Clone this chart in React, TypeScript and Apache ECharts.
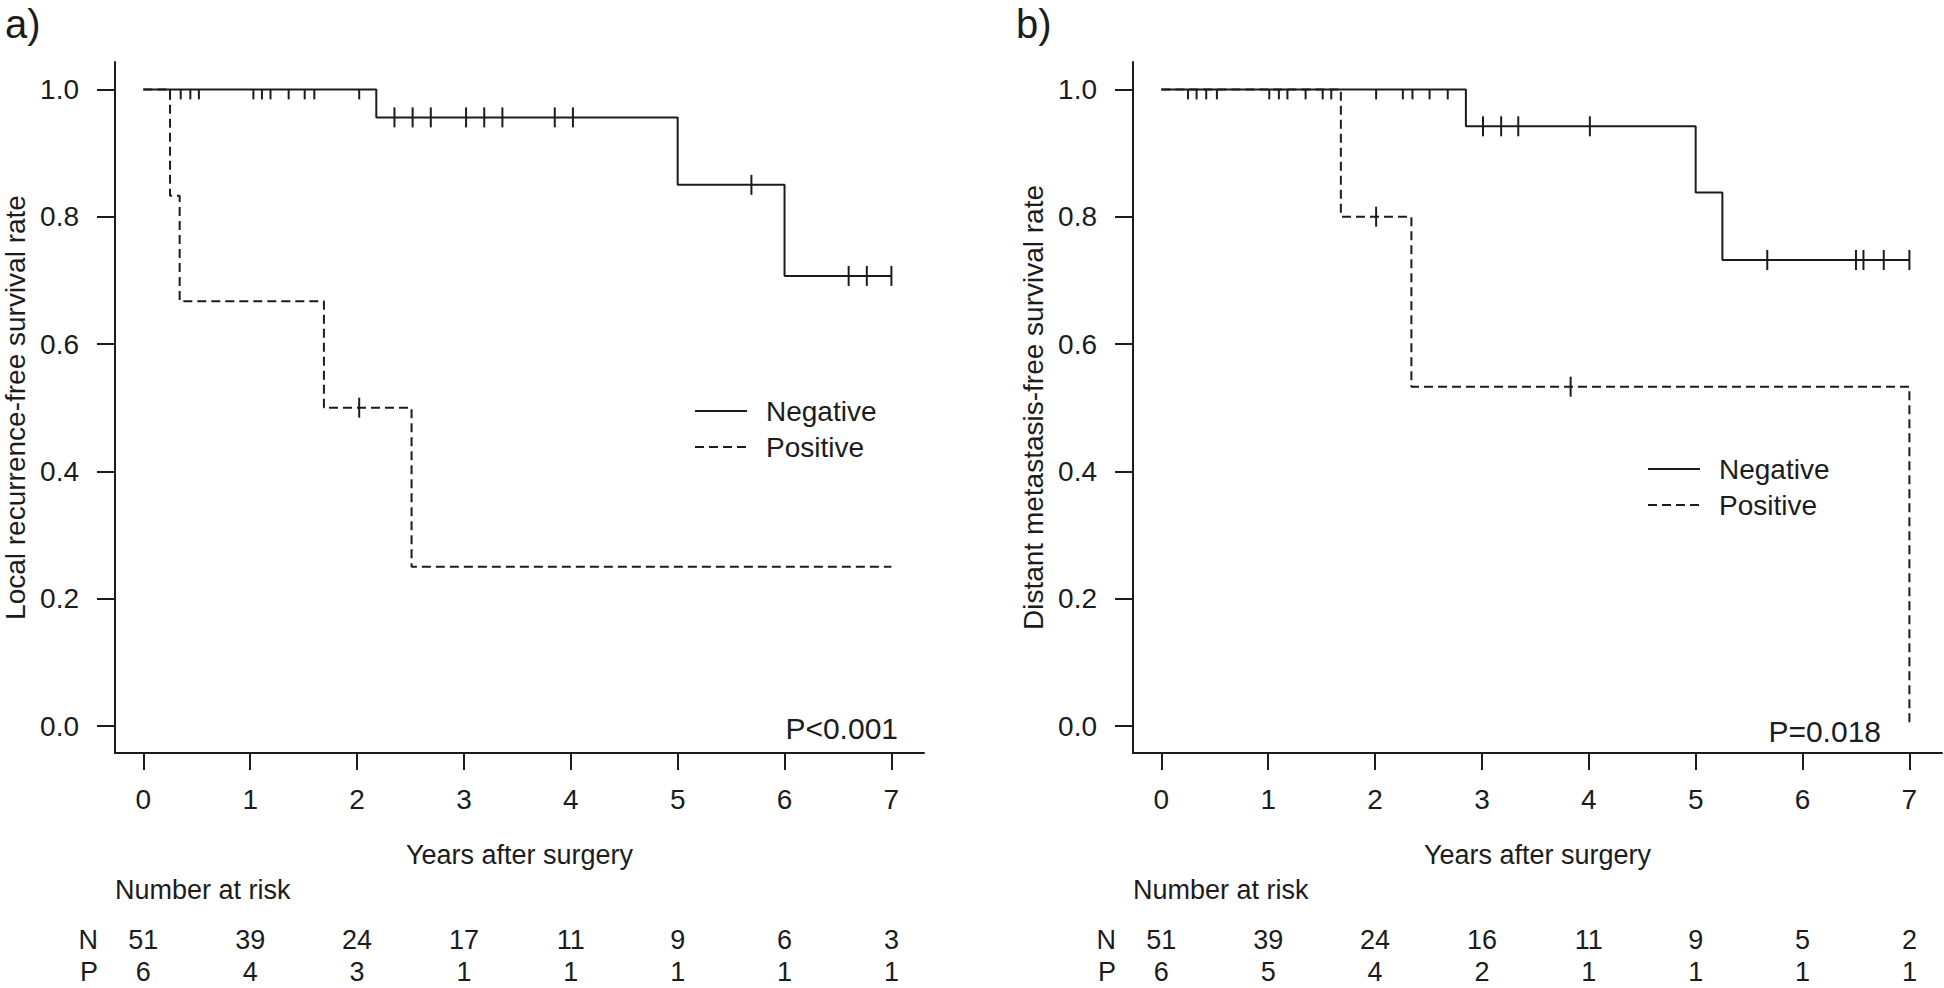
import React, { useEffect, useRef } from "react";
import * as echarts from "echarts";

// ---------- shared axes ----------
const yearTicks = [0, 1, 2, 3, 4, 5, 6, 7];
const survTicks = [0, 0.2, 0.4, 0.6, 0.8, 1.0];
const riskRows = ["N", "P"];
const legendNames = ["Negative", "Positive"];

// ---------- a) Local recurrence-free survival ----------
const aNegTimes = [0, 2.18, 5.0, 6.0, 7.0];
const aNegSurv = [1, 0.956, 0.85, 0.707, 0.707];
const aPosTimes = [0, 0.25, 0.34, 1.69, 2.51, 7.0];
const aPosSurv = [1, 0.833, 0.667, 0.5, 0.25, 0.25];
const aNegCensor = [0.25, 0.35, 0.44, 0.52, 1.03, 1.11, 1.19, 1.36, 1.51, 1.6, 2.02, 2.35, 2.52, 2.69, 3.02, 3.19, 3.36, 3.85, 4.02, 5.69, 6.6, 6.77, 7.0];
const aPosCensor = [2.02];
const aRiskN = [51, 39, 24, 17, 11, 9, 6, 3];
const aRiskP = [6, 4, 3, 1, 1, 1, 1, 1];
const aYName = "Local recurrence-free survival rate";
const aPValue = "P<0.001";

// ---------- b) Distant metastasis-free survival ----------
const bNegTimes = [0, 2.85, 5.0, 5.25, 7.0];
const bNegSurv = [1, 0.942, 0.838, 0.732, 0.732];
const bPosTimes = [0, 1.68, 2.34, 7.0];
const bPosSurv = [1, 0.8, 0.533, 0];
const bNegCensor = [0.25, 0.33, 0.42, 0.52, 1.01, 1.1, 1.18, 1.35, 1.51, 1.59, 2.01, 2.26, 2.35, 2.51, 2.68, 3.01, 3.18, 3.34, 4.01, 5.67, 6.5, 6.57, 6.76, 7.0];
const bPosCensor = [2.01, 3.83];
const bRiskN = [51, 39, 24, 16, 11, 9, 5, 2];
const bRiskP = [6, 5, 4, 2, 1, 1, 1, 1];
const bYName = "Distant metastasis-free survival rate";
const bPValue = "P=0.018";

const FONT = '"Liberation Sans", Arial, Helvetica, sans-serif';
const INK = "#1c1c1c";
const X_MIN = -0.265;
const X_MAX = 7.305;
const Y_MIN = -0.0424;
const Y_MAX = 1.043;

function censorData(times: number[], surv: number[], censor: number[]) {
  return censor.map((t) => {
    let v = surv[0];
    for (let i = 0; i < times.length; i++) if (times[i] <= t + 1e-9 && surv[i] > 0) v = surv[i];
    const top = v >= 0.999;
    return {
      value: [t, v],
      symbolSize: top ? [2, 10] : [2, 20],
      symbolOffset: top ? [0, 5] : [0, 0],
    };
  });
}

function zip(times: number[], surv: number[]) {
  return times.map((t, i) => [t, surv[i]]);
}

function mainX(grid: number) {
  return {
    type: "value",
    gridIndex: grid,
    min: X_MIN,
    max: X_MAX,
    name: "Years after surgery",
    nameLocation: "middle",
    nameGap: 88,
    nameMoveOverlap: false,
    nameTextStyle: { fontFamily: FONT, fontSize: 27, color: INK },
    axisLine: { show: true, onZero: false, lineStyle: { color: INK, width: 2 } },
    axisTick: { show: true, length: 17, lineStyle: { color: INK, width: 2 }, customValues: yearTicks },
    axisLabel: { show: true, margin: 32, fontFamily: FONT, fontSize: 28, color: INK, customValues: yearTicks, formatter: (v: number) => String(v) },
    splitLine: { show: false },
  };
}

function mainY(grid: number, name: string) {
  return {
    type: "value",
    gridIndex: grid,
    min: Y_MIN,
    max: Y_MAX,
    name,
    nameLocation: "middle",
    nameRotate: 90,
    nameGap: 86,
    nameMoveOverlap: false,
    nameTextStyle: { fontFamily: FONT, fontSize: 28, color: INK },
    axisLine: { show: true, onZero: false, lineStyle: { color: INK, width: 2 } },
    axisTick: { show: true, length: 18, lineStyle: { color: INK, width: 2 }, customValues: survTicks },
    axisLabel: { show: true, margin: 36, fontFamily: FONT, fontSize: 28, color: INK, customValues: survTicks, formatter: (v: number) => v.toFixed(1) },
    splitLine: { show: false },
  };
}

function tableX(grid: number) {
  return { type: "value", gridIndex: grid, min: X_MIN, max: X_MAX, show: false };
}

function tableY(grid: number) {
  return {
    type: "category",
    gridIndex: grid,
    data: riskRows,
    inverse: true,
    axisLine: { show: false, onZero: false },
    axisTick: { show: false },
    axisLabel: { show: true, interval: 0, margin: 17, fontFamily: FONT, fontSize: 27, color: INK },
    splitLine: { show: false },
  };
}

function panelSeries(
  g: number,
  tg: number,
  negT: number[], negS: number[], posT: number[], posS: number[],
  negC: number[], posC: number[], riskN: number[], riskP: number[]
) {
  const riskData = [
    ...yearTicks.map((y, i) => [y, "N", riskN[i]]),
    ...yearTicks.map((y, i) => [y, "P", riskP[i]]),
  ];
  return [
    {
      name: "Negative", type: "line", xAxisIndex: g, yAxisIndex: g, step: "end",
      data: zip(negT, negS), symbol: "none", silent: true,
      lineStyle: { color: INK, width: 2, type: "solid" }, itemStyle: { color: INK },
    },
    {
      name: "Positive", type: "line", xAxisIndex: g, yAxisIndex: g, step: "end",
      data: zip(posT, posS), symbol: "none", silent: true,
      lineStyle: { color: INK, width: 2, type: [9, 5] }, itemStyle: { color: INK },
    },
    {
      name: "Negative censored", type: "scatter", xAxisIndex: g, yAxisIndex: g,
      symbol: "rect", data: censorData(negT, negS, negC), silent: true,
      itemStyle: { color: INK, opacity: 1 }, emphasis: { disabled: true },
    },
    {
      name: "Positive censored", type: "scatter", xAxisIndex: g, yAxisIndex: g,
      symbol: "rect", data: censorData(posT, posS, posC), silent: true,
      itemStyle: { color: INK, opacity: 1 }, emphasis: { disabled: true },
    },
    {
      name: "Number at risk", type: "scatter", xAxisIndex: tg, yAxisIndex: tg,
      data: riskData, symbolSize: 1, silent: true,
      itemStyle: { color: "rgba(0,0,0,0)", opacity: 1 },
      label: {
        show: true, position: "inside", fontFamily: FONT, fontSize: 27, color: INK, opacity: 1,
        textBorderWidth: 0, textBorderColor: "transparent",
        formatter: (p: any) => String(p.value[2]),
      },
      emphasis: { disabled: true },
    },
  ];
}

export default function App() {
  const ref = useRef<HTMLDivElement>(null);
  useEffect(() => {
    if (!ref.current) return;
    const chart = echarts.init(ref.current, null, { renderer: "svg" });
    const legendBase = {
      orient: "vertical",
      data: legendNames,
      itemWidth: 52,
      itemHeight: 14,
      itemGap: 8,
      selectedMode: false,
      itemStyle: { opacity: 0, color: "rgba(0,0,0,0)", borderWidth: 0 },
      textStyle: { fontFamily: FONT, fontSize: 28, color: INK, padding: [0, 0, 0, 14], lineHeight: 28 },
    };
    const gridBase = { outerBoundsMode: "none", containLabel: false };
    const option: any = {
      animation: false,
      backgroundColor: "#ffffff",
      grid: [
        { ...gridBase, left: 115, top: 62, width: 809, height: 691 },
        { ...gridBase, left: 1133, top: 62, width: 809, height: 691 },
        { ...gridBase, left: 115, top: 924, width: 809, height: 64 },
        { ...gridBase, left: 1133, top: 924, width: 809, height: 64 },
      ],
      xAxis: [mainX(0), mainX(1), tableX(2), tableX(3)],
      yAxis: [mainY(0, aYName), mainY(1, bYName), tableY(2), tableY(3)],
      legend: [
        { ...legendBase, left: 689, top: 392 },
        { ...legendBase, left: 1642, top: 450 },
      ],
      series: [
        ...panelSeries(0, 2, aNegTimes, aNegSurv, aPosTimes, aPosSurv, aNegCensor, aPosCensor, aRiskN, aRiskP),
        ...panelSeries(1, 3, bNegTimes, bNegSurv, bPosTimes, bPosSurv, bNegCensor, bPosCensor, bRiskN, bRiskP),
      ],
      graphic: [
        { type: "text", left: 5, top: 4, style: { text: "a)", fontFamily: FONT, fontSize: 40, fill: INK } },
        { type: "text", left: 1016, top: 4, style: { text: "b)", fontFamily: FONT, fontSize: 40, fill: INK } },
        { type: "text", left: 115, top: 876, style: { text: "Number at risk", fontFamily: FONT, fontSize: 27, fill: INK } },
        { type: "text", left: 1133, top: 876, style: { text: "Number at risk", fontFamily: FONT, fontSize: 27, fill: INK } },
        { type: "text", right: 1944 - 898, top: 713, style: { text: aPValue, fontFamily: FONT, fontSize: 30, fill: INK } },
        { type: "text", right: 1944 - 1881, top: 716, style: { text: bPValue, fontFamily: FONT, fontSize: 30, fill: INK } },
      ],
    };
    chart.setOption(option);
    return () => chart.dispose();
  }, []);
  return <div ref={ref} style={{ position: "absolute", left: 0, top: 0, width: 1944, height: 988 }} />;
}
